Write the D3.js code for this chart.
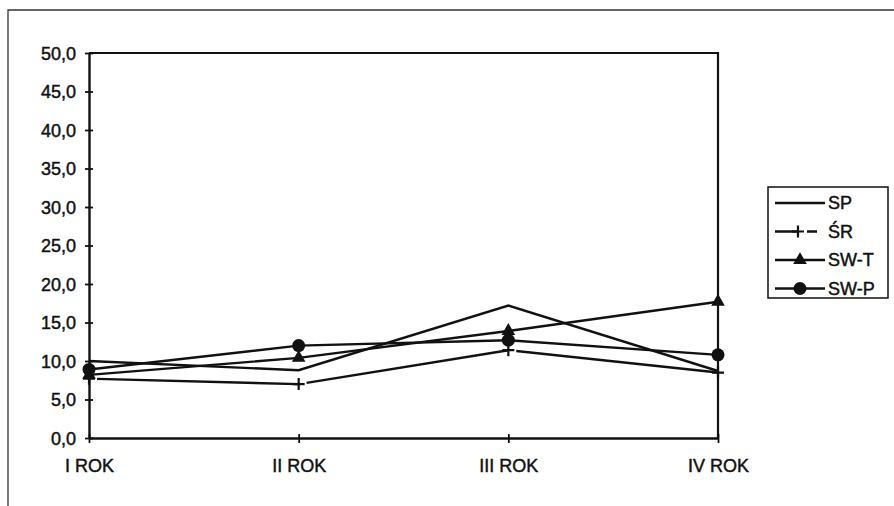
<!DOCTYPE html>
<html>
<head>
<meta charset="utf-8">
<script src="https://cdn.jsdelivr.net/npm/d3@7"></script>
<style>
  html, body { margin: 0; padding: 0; background: #fff; }
  svg text { font-family: "Liberation Sans", Arial, sans-serif; fill: #111; stroke: #111; stroke-width: 0.45px; }
</style>
</head>
<body>
<svg id="chart" width="894" height="506"></svg>
<script>
// ── Data ──
const categories = ["I ROK", "II ROK", "III ROK", "IV ROK"];
const yTicks     = [0, 5, 10, 15, 20, 25, 30, 35, 40, 45, 50];
const spValues   = [10.0, 8.8, 17.2, 8.7];
const srValues   = [7.7, 7.0, 11.4, 8.5];
const swtValues  = [8.2, 10.4, 13.9, 17.7];
const swpValues  = [8.9, 12.0, 12.7, 10.8];

const series = [
  { name: "SP",   values: spValues,  marker: "none" },
  { name: "ŚR",   values: srValues,  marker: "plus" },
  { name: "SW-T", values: swtValues, marker: "triangle" },
  { name: "SW-P", values: swpValues, marker: "circle" }
];

const INK = "#111";
const LW = 2.4;
const FONT = "18px";
const PLOT = { left: 89, right: 718, top: 53, bottom: 438 };

const svg = d3.select("#chart");

// ── Outer frame (only top and left survive in the scan) ──
svg.append("path")
  .attr("d", "M8,506 L8,10 L894,10")
  .attr("fill", "none")
  .attr("stroke", "#333")
  .attr("stroke-width", 1.3);

// ── Scales ──
const x = d3.scalePoint()
  .domain(categories)
  .range([PLOT.left, PLOT.right]);

const y = d3.scaleLinear()
  .domain([0, 50])
  .range([PLOT.bottom, PLOT.top]);

// ── Plot area border (top + right) ──
svg.append("path")
  .attr("d", `M${PLOT.left},${PLOT.top} L${PLOT.right},${PLOT.top} L${PLOT.right},${PLOT.bottom}`)
  .attr("fill", "none")
  .attr("stroke", INK)
  .attr("stroke-width", 2.2);

// ── Y axis ──
const yAxis = d3.axisLeft(y)
  .tickValues(yTicks)
  .tickSize(0)
  .tickPadding(13)
  .tickFormat(d => d3.format(".1f")(d).replace(".", ","));

const yG = svg.append("g")
  .attr("transform", `translate(${PLOT.left},0)`)
  .call(yAxis);
yG.select(".domain").attr("stroke", INK).attr("stroke-width", LW);
yG.selectAll(".tick text")
  .style("font-size", FONT)
  .attr("dy", "0.36em")
  .style("fill", INK);
yG.selectAll(".tick").append("line")
  .attr("x1", -4).attr("x2", 4)
  .attr("stroke", INK).attr("stroke-width", 1.8);

// ── X axis ──
const xAxis = d3.axisBottom(x).tickSize(0).tickPadding(21);
const xG = svg.append("g")
  .attr("transform", `translate(0,${PLOT.bottom})`)
  .call(xAxis);
xG.select(".domain").attr("stroke", INK).attr("stroke-width", LW);
xG.selectAll(".tick text")
  .style("font-size", FONT)
  .style("fill", INK);
xG.selectAll(".tick").append("line")
  .attr("y1", -4).attr("y2", 5)
  .attr("stroke", INK).attr("stroke-width", 1.8);

// ── Markers ──
function drawMarker(g, type, cx, cy) {
  if (type === "plus") {
    g.append("path")
      .attr("d", `M${cx - 6},${cy} h12 M${cx},${cy - 6} v12`)
      .attr("stroke", INK).attr("stroke-width", 2.2).attr("fill", "none");
  } else if (type === "triangle") {
    g.append("path")
      .attr("d", d3.symbol().type(d3.symbolTriangle).size(80)())
      .attr("transform", `translate(${cx},${cy})`)
      .attr("fill", INK);
  } else if (type === "circle") {
    g.append("circle")
      .attr("cx", cx).attr("cy", cy).attr("r", 6.5)
      .attr("fill", INK);
  }
}

// ── Lines ──
const lineGen = d3.line()
  .x((d, i) => x(categories[i]))
  .y(d => y(d));

series.forEach(s => {
  const g = svg.append("g");
  if (s.marker === "plus") {
    // broken line: a short gap right after each marker
    d3.pairs(s.values.map((v, i) => [x(categories[i]), y(v)])).forEach(([a, b]) => {
      g.append("path")
        .attr("d", `M${a[0]},${a[1]} L${b[0]},${b[1]}`)
        .attr("fill", "none")
        .attr("stroke", INK)
        .attr("stroke-width", LW)
        .attr("stroke-dasharray", "0 8 2000");
    });
  } else {
    g.append("path")
      .datum(s.values)
      .attr("fill", "none")
      .attr("stroke", INK)
      .attr("stroke-width", LW)
      .attr("d", lineGen);
  }
  s.values.forEach((v, i) => drawMarker(g, s.marker, x(categories[i]), y(v)));
});

// ── Legend ──
const LEG = { x: 768, y: 187, w: 120, h: 111, row: 28.5 };
const legend = svg.append("g");
legend.append("rect")
  .attr("x", LEG.x).attr("y", LEG.y)
  .attr("width", LEG.w).attr("height", LEG.h)
  .attr("fill", "#fff")
  .attr("stroke", INK)
  .attr("stroke-width", 1.5);

series.forEach((s, i) => {
  const cy = LEG.y + 16 + i * LEG.row;
  const x1 = LEG.x + 7, x2 = LEG.x + 57, mx = (x1 + x2) / 2;
  if (s.marker === "plus") {
    legend.append("path")
      .attr("d", `M${x1},${cy} H${mx - 2} M${mx + 7},${cy} H${mx + 17}`)
      .attr("stroke", INK).attr("stroke-width", LW).attr("fill", "none");
    drawMarker(legend, "plus", mx - 2, cy);
  } else {
    legend.append("line")
      .attr("x1", x1).attr("x2", x2)
      .attr("y1", cy).attr("y2", cy)
      .attr("stroke", INK).attr("stroke-width", LW);
    drawMarker(legend, s.marker, mx, cy);
  }
  legend.append("text")
    .attr("x", LEG.x + 60)
    .attr("y", cy)
    .attr("dy", "0.36em")
    .style("font-size", FONT)
    .text(s.name);
});
</script>
</body>
</html>
